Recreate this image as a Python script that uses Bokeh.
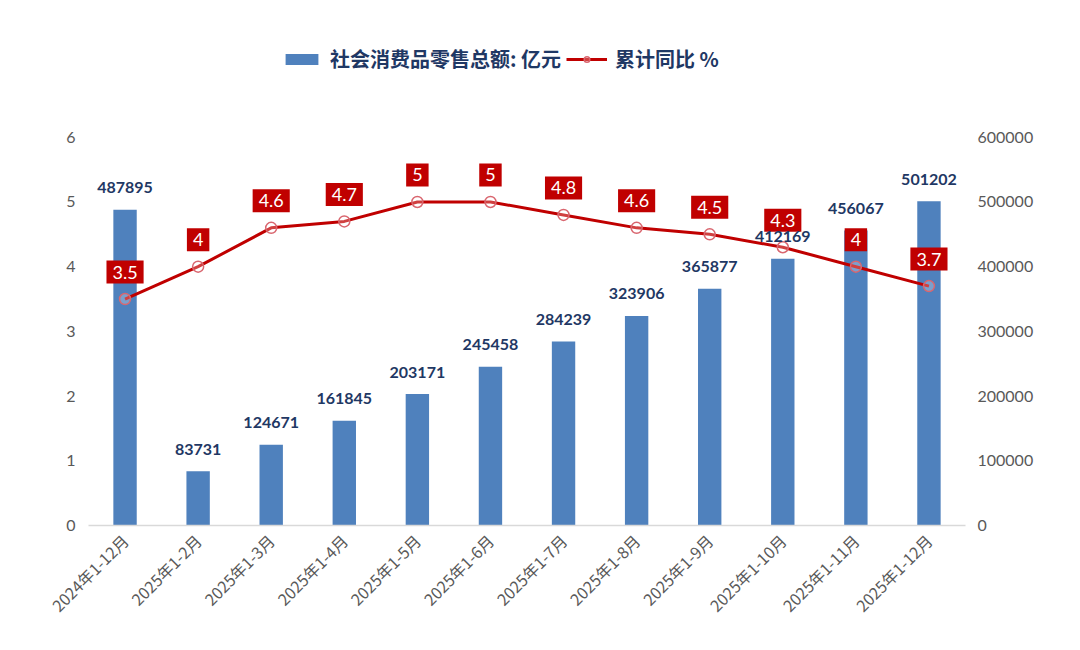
import math
from bokeh.plotting import figure
from bokeh.models import (ColumnDataSource, Range1d, LinearAxis, FixedTicker,
                          LabelSet, Legend, LegendItem, FactorRange, NumeralTickFormatter)
from bokeh.core.properties import value
from bokeh.embed import file_html
from bokeh.resources import INLINE

categories = ["2024年1-12月", "2025年1-2月", "2025年1-3月", "2025年1-4月", "2025年1-5月",
              "2025年1-6月", "2025年1-7月", "2025年1-8月", "2025年1-9月", "2025年1-10月",
              "2025年1-11月", "2025年1-12月"]
retail_sales = [487895, 83731, 124671, 161845, 203171, 245458, 284239, 323906,
                365877, 412169, 456067, 501202]
yoy_growth = [3.5, 4, 4.6, 4.7, 5, 5, 4.8, 4.6, 4.5, 4.3, 4, 3.7]
left_ticks = [0, 1, 2, 3, 4, 5, 6]
right_ticks = [0, 100000, 200000, 300000, 400000, 500000, 600000]

bar_label_text = [str(v) for v in retail_sales]
line_label_text = [("%g" % v) for v in yoy_growth]

src = ColumnDataSource(dict(cat=categories, sales=retail_sales, yoy=yoy_growth,
                            bl=bar_label_text, ll=line_label_text))

W, H = 1064, 634
LEFT_TOP = 7.65          # frame extends above the last tick to host the legend
p = figure(width=W, height=H, x_range=FactorRange(*categories, range_padding=0),
           y_range=Range1d(0, LEFT_TOP), output_backend="svg", toolbar_location=None,
           min_border_left=88, min_border_right=99, min_border_top=30,
           min_border_bottom=109)
p.outline_line_color = None
p.background_fill_color = "white"
p.border_fill_color = "white"
p.grid.visible = False
p.extra_y_ranges = {"right": Range1d(0, LEFT_TOP * 100000)}

NUM_FONT = "Lato"
CJK_FONT = "Noto Sans CJK SC"
GRAY = "#595959"
NAVY = "#1F3864"
RED = "#C00000"
BLUE = "#4F81BD"

# left axis
ya = p.yaxis[0]
ya.ticker = FixedTicker(ticks=left_ticks)
ya.axis_line_color = None
ya.major_tick_line_color = None
ya.minor_tick_line_color = None
ya.major_label_text_font = NUM_FONT
ya.major_label_text_font_size = "16px"
ya.major_label_text_color = GRAY
ya.major_label_standoff = 7

# right axis
ra = LinearAxis(y_range_name="right", ticker=FixedTicker(ticks=right_ticks),
                formatter=NumeralTickFormatter(format="0"))
ra.axis_line_color = None
ra.major_tick_line_color = None
ra.minor_tick_line_color = None
ra.major_label_text_font = NUM_FONT
ra.major_label_text_font_size = "16px"
ra.major_label_text_color = GRAY
ra.major_label_standoff = 6
p.add_layout(ra, "right")

# x axis
xa = p.xaxis[0]
xa.axis_line_color = "#D9D9D9"
xa.axis_line_width = 1.5
xa.major_tick_line_color = None
xa.minor_tick_line_color = None
xa.major_label_orientation = math.pi / 4
xa.major_label_text_font = CJK_FONT
xa.major_label_text_font_size = "16px"
xa.major_label_text_color = GRAY
xa.major_label_standoff = 6

bars = p.vbar(x="cat", top="sales", width=0.32, source=src, y_range_name="right",
              fill_color=BLUE, line_color=None)
line = p.line(x="cat", y="yoy", source=src, line_color=RED, line_width=3)
pts = p.scatter(x="cat", y="yoy", source=src, size=11, marker="circle",
                fill_color="white", fill_alpha=0.25, line_color="#D9666F", line_width=1.5)

bar_labels = LabelSet(x="cat", y="sales", text="bl", source=src, y_range_name="right",
                      text_align="center", text_baseline="middle", y_offset=22,
                      text_font=value(NUM_FONT), text_font_style="bold",
                      text_font_size="16px", text_color=NAVY)
p.add_layout(bar_labels)

p.text(x="cat", y="yoy", text="ll", source=src,
       text_align="center", text_baseline="middle", y_offset=-27,
       text_font=value(NUM_FONT), text_font_size="18px", text_color="white",
       background_fill_color=RED, border_line_color=None, padding=(6, 6, 5, 5))

legend = Legend(items=[LegendItem(label="社会消费品零售总额: 亿元", renderers=[bars]),
                       LegendItem(label="累计同比 %", renderers=[line, pts])],
                orientation="horizontal", location=(193, 452),
                label_text_font=CJK_FONT, label_text_font_style="bold",
                label_text_font_size="20px", label_text_color=NAVY,
                glyph_width=41, glyph_height=14, label_standoff=8, spacing=5,
                background_fill_alpha=0, border_line_color=None, padding=0, margin=0)
p.add_layout(legend)

open("out.html", "w").write(file_html(p, INLINE))
